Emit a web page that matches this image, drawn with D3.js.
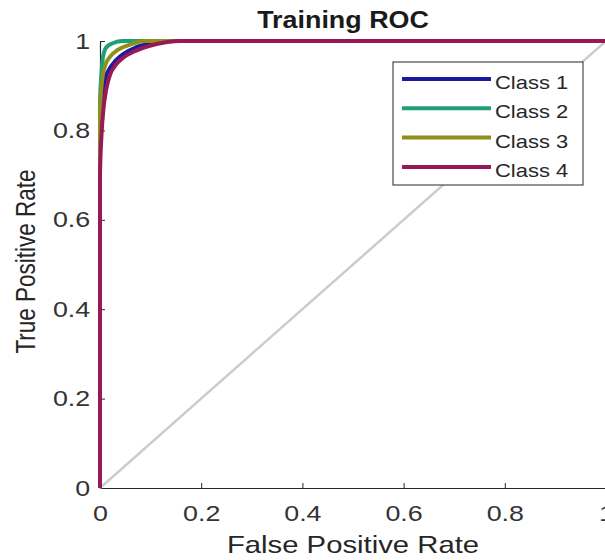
<!DOCTYPE html>
<html>
<head>
<meta charset="utf-8">
<script src="https://cdn.jsdelivr.net/npm/d3@7"></script>
<style>
  body { margin: 0; background: #fff; }
  text { font-family: "Liberation Sans", Arial, sans-serif; }
</style>
</head>
<body>
<div id="chart"></div>
<script>
// ROC points per class [fpr, tpr]
let class1 = [[0,0],[0,0.80],[0.004,0.87],[0.01,0.915],[0.02,0.94],[0.03,0.955],[0.045,0.97],[0.07,0.985],[0.1,0.995],[0.14,1],[1,1]]
let class2 = [[0,0],[0,0.86],[0.003,0.93],[0.006,0.965],[0.012,0.985],[0.025,0.995],[0.045,1],[1,1]]
let class3 = [[0,0],[0,0.84],[0.004,0.91],[0.01,0.945],[0.02,0.965],[0.035,0.98],[0.06,0.992],[0.09,1],[1,1]]
let class4 = [[0,0],[0,0.70],[0.003,0.79],[0.007,0.85],[0.012,0.89],[0.02,0.925],[0.03,0.945],[0.045,0.962],[0.07,0.978],[0.1,0.99],[0.13,0.997],[0.16,1],[1,1]]
let chance = [[0,0],[1,1]]
let names = ['Class 1', 'Class 2', 'Class 3', 'Class 4']
let colors = ['#1a1aa0', '#1f9e7a', '#8f8f1a', '#941a5a']
let ticks = [0, 0.2, 0.4, 0.6, 0.8, 1]

let svgWidth = 605, svgHeight = 560
let padding = { left: 100, right: -1, top: 41, bottom: 72 }
let stretch = 1.22   // the picture's text is wider than it is tall

let svg = d3.select('#chart').append('svg')
    .attr('width', svgWidth)
    .attr('height', svgHeight)

let x = d3.scaleLinear().domain([0, 1]).range([padding.left, svgWidth - padding.right])
let y = d3.scaleLinear().domain([0, 1]).range([svgHeight - padding.bottom, padding.top])

let axis_x = d3.axisBottom(x).tickValues(ticks).tickFormat(d => d).tickSize(-5).tickPadding(17)
let axis_y = d3.axisLeft(y).tickValues(ticks).tickFormat(d => d).tickSize(-5).tickPadding(8)

let gx = svg.append('g')
    .attr('transform', `translate(0, ${y(0)})`)
    .call(axis_x)
let gy = svg.append('g')
    .attr('transform', `translate(${x(0)}, 0)`)
    .call(axis_y)
;[gx, gy].forEach(g => {
    g.select('.domain').attr('stroke', '#262626').attr('stroke-width', 1.2)
    g.selectAll('.tick line').attr('stroke', '#262626')
    g.selectAll('.tick text').attr('font-size', 22).attr('fill', '#333')
        .attr('transform', `scale(${stretch},1)`)
        .style('font-family', '"Liberation Sans", Arial, sans-serif')
})

let line = d3.line().x(d => x(d[0])).y(d => y(d[1])).curve(d3.curveMonotoneX)

svg.append('path')
    .attr('d', d3.line().x(d => x(d[0])).y(d => y(d[1]))(chance))
    .attr('fill', 'none')
    .attr('stroke', '#cccccc')
    .attr('stroke-width', 2.5)

let series = [class1, class2, class3, class4]
series.forEach((s, i) => {
    svg.append('path')
        .attr('d', line(s))
        .attr('fill', 'none')
        .attr('stroke', colors[i])
        .attr('stroke-width', 4)
        .attr('stroke-linejoin', 'round')
})

// legend
let lg = svg.append('g').attr('transform', 'translate(393, 62)')
lg.append('rect')
    .attr('width', 190).attr('height', 123)
    .attr('fill', '#fff').attr('stroke', '#262626').attr('stroke-width', 1)
names.forEach((n, i) => {
    let yy = 17 + i * 29.3
    lg.append('line')
        .attr('x1', 9).attr('x2', 98).attr('y1', yy).attr('y2', yy)
        .attr('stroke', colors[i]).attr('stroke-width', 4)
    lg.append('text')
        .attr('transform', `translate(102, ${yy + 10}) scale(${stretch},1)`)
        .attr('font-size', 18).attr('fill', '#262626')
        .text(n)
})

svg.append('text')
    .attr('transform', `translate(343, 28) scale(1.12,1)`)
    .attr('text-anchor', 'middle')
    .attr('font-size', 24).attr('font-weight', 'bold').attr('fill', '#1a1a1a')
    .text('Training ROC')

svg.append('text')
    .attr('transform', `translate(353, 553) scale(${stretch},1)`)
    .attr('text-anchor', 'middle')
    .attr('font-size', 24).attr('fill', '#262626')
    .text('False Positive Rate')

svg.append('text')
    .attr('transform', `translate(35, ${(y(0) + y(1)) / 2 - 3}) rotate(-90) scale(1,${stretch})`)
    .attr('text-anchor', 'middle')
    .attr('font-size', 22.5).attr('fill', '#262626')
    .text('True Positive Rate')
</script>
</body>
</html>
